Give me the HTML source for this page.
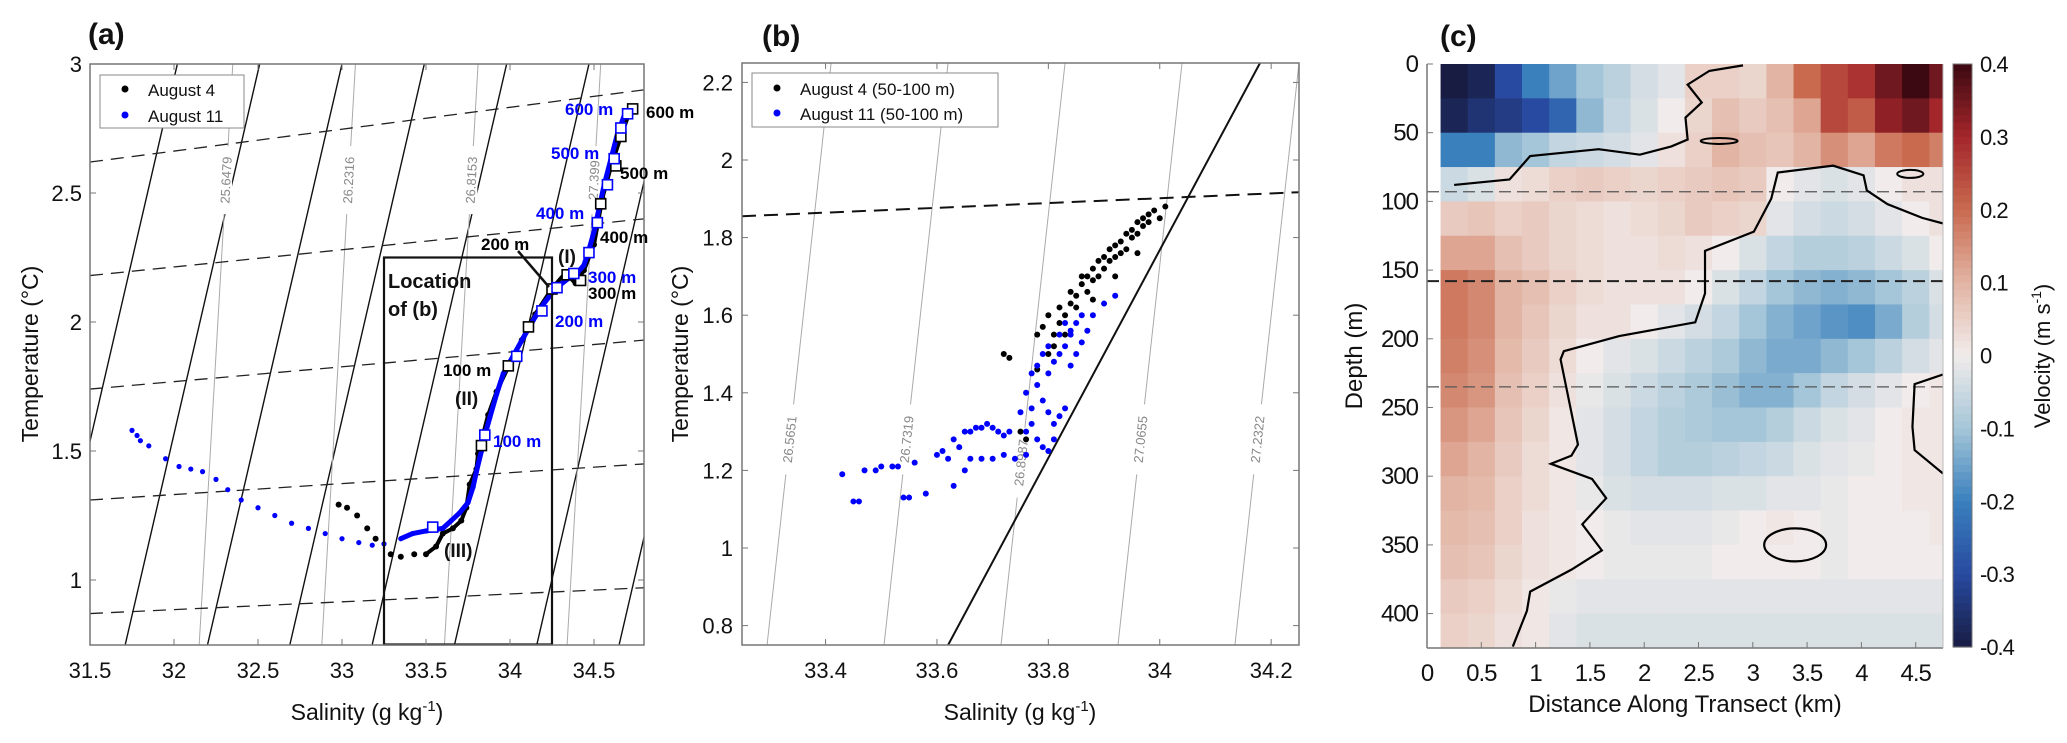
<!DOCTYPE html>
<html><head><meta charset="utf-8"><style>
body{margin:0;background:#fff}
svg{display:block;font-family:"Liberation Sans",sans-serif}
</style></head><body>
<svg id="fig" width="2067" height="743" viewBox="0 0 2067 743"></svg>
<script>
// ---------- DATA ----------
// Panel (a) profiles
const aug11Sal=[31.75,31.78,31.8,31.85,31.95,32.03,32.1,32.17,32.25,32.32,32.4,32.5,32.6,32.7,32.8,32.9,33,33.1,33.18,33.25,33.35,33.42,33.5,33.6,33.65,33.7,33.75,33.78,33.8,33.83,33.85,33.88,33.92,33.96,34.02,34.08,34.15,34.2,34.27,34.35,34.4,34.44,34.47,34.5,34.53,34.56,34.6,34.64,34.68,34.72];
const aug11Temp=[1.58,1.56,1.54,1.52,1.47,1.44,1.43,1.42,1.39,1.35,1.31,1.28,1.25,1.22,1.2,1.18,1.16,1.145,1.135,1.14,1.16,1.18,1.19,1.2,1.23,1.26,1.3,1.36,1.42,1.5,1.56,1.63,1.72,1.8,1.87,1.94,2.02,2.07,2.13,2.17,2.19,2.22,2.28,2.35,2.44,2.53,2.63,2.73,2.8,2.83];
const aug4Sal=[32.98,33.03,33.09,33.15,33.2,33.29,33.35,33.43,33.5,33.56,33.6,33.66,33.71,33.74,33.76,33.8,33.81,33.87,33.92,34.0,34.07,34.15,34.25,34.33,34.39,34.44,34.5,34.55,34.6,34.66,34.71];
const aug4Temp=[1.292,1.28,1.25,1.2,1.16,1.1,1.09,1.1,1.1,1.13,1.18,1.2,1.23,1.28,1.37,1.43,1.49,1.64,1.73,1.84,1.93,2.03,2.13,2.19,2.15,2.2,2.3,2.48,2.6,2.72,2.81];
const aug11SqSal=[33.54,33.85,34.04,34.19,34.28,34.38,34.47,34.52,34.58,34.62,34.66,34.70];
const aug11SqTemp=[1.205,1.562,1.867,2.043,2.133,2.188,2.269,2.385,2.532,2.633,2.752,2.807];
const aug4SqSal=[33.83,33.99,34.11,34.25,34.34,34.42,34.54,34.63,34.66,34.73];
const aug4SqTemp=[1.521,1.830,1.981,2.128,2.183,2.161,2.458,2.605,2.719,2.826];
const aSalTicks=[31.5,32,32.5,33,33.5,34,34.5];
const aTempTicks=[1,1.5,2,2.5,3];
const aSolidBottoms=[31.22,31.71,32.2,32.69,33.18,33.67,34.16,34.65];
const aGrayBottoms=[32.15,32.88,33.61,34.34];
const aGrayLabels=["25.6479","26.2316","26.8153","27.399"];
const aDashLeft=[2.62,2.18,1.74,1.31,0.87];
const aDashRight=[2.90,2.40,1.93,1.45,0.97];
// Panel (b)
const b4Sal=[33.72,33.73,33.75,33.76,33.78,33.79,33.8,33.8,33.81,33.82,33.82,33.83,33.84,33.84,33.85,33.85,33.86,33.86,33.87,33.87,33.88,33.88,33.89,33.89,33.9,33.9,33.91,33.91,33.92,33.92,33.93,33.93,33.94,33.94,33.95,33.95,33.96,33.96,33.97,33.97,33.98,33.98,33.99,34.0,34.01,33.96,33.92,33.88,33.83,33.81,33.78];
const b4Temp=[1.5,1.49,1.3,1.28,1.55,1.57,1.5,1.6,1.55,1.62,1.58,1.6,1.63,1.66,1.65,1.62,1.68,1.7,1.7,1.66,1.72,1.69,1.74,1.7,1.75,1.72,1.77,1.74,1.78,1.75,1.79,1.76,1.81,1.77,1.82,1.8,1.84,1.81,1.85,1.83,1.86,1.84,1.87,1.85,1.88,1.76,1.7,1.64,1.55,1.52,1.46];
const b11Sal=[33.43,33.45,33.46,33.47,33.49,33.5,33.52,33.53,33.54,33.55,33.56,33.58,33.6,33.61,33.62,33.63,33.64,33.65,33.66,33.67,33.68,33.69,33.7,33.71,33.72,33.73,33.66,33.68,33.7,33.72,33.74,33.76,33.65,33.63,33.75,33.76,33.77,33.78,33.79,33.8,33.81,33.82,33.83,33.78,33.79,33.8,33.81,33.77,33.76,33.77,33.8,33.81,33.82,33.83,33.84,33.85,33.86,33.87,33.88,33.9,33.92,33.84,33.85,33.86,33.79,33.8,33.82,33.83,33.84,33.78];
const b11Temp=[1.19,1.12,1.12,1.2,1.2,1.21,1.21,1.21,1.13,1.13,1.22,1.14,1.24,1.25,1.23,1.28,1.26,1.3,1.3,1.31,1.31,1.32,1.31,1.3,1.29,1.3,1.23,1.23,1.23,1.24,1.23,1.24,1.2,1.16,1.35,1.4,1.45,1.42,1.38,1.35,1.32,1.34,1.36,1.28,1.26,1.25,1.28,1.32,1.3,1.36,1.45,1.48,1.5,1.52,1.55,1.58,1.6,1.56,1.6,1.63,1.65,1.47,1.5,1.53,1.5,1.52,1.55,1.58,1.56,1.47];
const bSalTicks=[33.4,33.6,33.8,34,34.2];
const bTempTicks=[0.8,1,1.2,1.4,1.6,1.8,2,2.2];
const bGrayBottoms=[33.295,33.505,33.715,33.925,34.135];
const bGrayLabels=["26.5651","26.7319","26.8987","27.0655","27.2322"];
// Panel (c)
const cDistTicks=[0,0.5,1,1.5,2,2.5,3,3.5,4,4.5];
const cDepthTicks=[0,50,100,150,200,250,300,350,400];
const cbTicks=[0.4,0.3,0.2,0.1,0,-0.1,-0.2,-0.3,-0.4];
const cDashDepths=[93,158,235];
const velocity=[
[-0.4,-0.38,-0.3,-0.2,-0.15,-0.1,-0.07,-0.04,-0.02,0.05,0.05,0.04,0.1,0.2,0.25,0.28,0.35,0.4,0.35],
[-0.38,-0.35,-0.33,-0.3,-0.25,-0.12,-0.06,-0.03,0,0.04,0.08,0.06,0.08,0.12,0.25,0.22,0.32,0.35,0.3],
[-0.2,-0.2,-0.12,-0.1,-0.06,-0.05,-0.04,-0.02,0.02,0.05,0.1,0.08,0.07,0.1,0.15,0.12,0.18,0.2,0.17],
[-0.05,-0.03,0.02,0.03,0.05,0.06,0.05,0.04,0.05,0.06,0.07,0.06,0.0,-0.02,-0.03,-0.02,0.0,0.02,0.02],
[0.06,0.07,0.05,0.06,0.04,0.03,0.02,0.03,0.04,0.06,0.05,0.04,-0.02,-0.04,-0.05,-0.04,-0.02,0,0.02],
[0.12,0.12,0.08,0.06,0.04,0.03,0.02,0.02,0.03,0.02,0.0,-0.03,-0.06,-0.08,-0.08,-0.07,-0.05,-0.03,0],
[0.18,0.16,0.1,0.08,0.05,0.03,0.02,0.02,0.02,0.0,-0.03,-0.06,-0.1,-0.12,-0.13,-0.12,-0.1,-0.07,-0.03],
[0.18,0.16,0.1,0.07,0.04,0.02,0.02,0.0,-0.02,-0.04,-0.06,-0.1,-0.13,-0.15,-0.17,-0.18,-0.14,-0.08,-0.04],
[0.17,0.15,0.09,0.06,0.03,0.0,-0.02,-0.03,-0.05,-0.07,-0.09,-0.12,-0.14,-0.14,-0.12,-0.1,-0.07,-0.04,-0.02],
[0.16,0.14,0.08,0.05,0.02,-0.01,-0.03,-0.05,-0.07,-0.09,-0.11,-0.13,-0.13,-0.1,-0.06,-0.04,-0.02,0.0,0.01],
[0.14,0.12,0.07,0.04,0.01,-0.02,-0.04,-0.06,-0.08,-0.09,-0.1,-0.1,-0.08,-0.05,-0.03,-0.02,0,0.01,0.01],
[0.12,0.1,0.06,0.03,0.01,-0.02,-0.04,-0.06,-0.08,-0.08,-0.07,-0.06,-0.05,-0.03,-0.02,-0.01,0,0.01,0.01],
[0.1,0.09,0.05,0.03,0.01,-0.01,-0.03,-0.04,-0.04,-0.04,-0.03,-0.03,-0.02,-0.02,-0.01,0,0,0.01,0.01],
[0.09,0.08,0.05,0.02,0.01,0,-0.01,-0.02,-0.02,-0.02,-0.01,0,0.01,0,-0.01,0,0,0,0.01],
[0.08,0.07,0.04,0.02,0.01,0,-0.01,-0.01,-0.01,-0.01,0,0,0,0,-0.01,0,0,0,0],
[0.06,0.05,0.03,0.01,-0.01,-0.02,-0.02,-0.02,-0.02,-0.02,-0.02,-0.02,-0.02,-0.02,-0.02,-0.02,-0.02,-0.02,-0.02],
[0.05,0.04,0.02,0.01,-0.02,-0.03,-0.03,-0.03,-0.03,-0.03,-0.03,-0.03,-0.03,-0.03,-0.03,-0.03,-0.03,-0.03,-0.03]];
const colStarts=[0.125,0.375,0.625,0.875,1.125,1.375,1.625,1.875,2.125,2.375,2.625,2.875,3.125,3.375,3.625,3.875,4.125,4.375,4.625];
const rowStarts=[0,25,50,75,100,125,150,175,200,225,250,275,300,325,350,375,400];
const contourTopKm=[0.25,0.76,0.95,1.58,1.96,2.25,2.40,2.38,2.53,2.40,2.60,2.91];
const contourTopM=[88,84,67,62,66,60,55,39,28,15,5,1];
const contourMainKm=[0.79,0.92,0.95,1.33,1.61,1.43,1.65,1.52,1.14,1.33,1.39,1.23,1.26,1.77,2.47,2.56,2.56,3.01,3.17,3.23,3.74,4.02,4.05,4.24,4.56,4.75];
const contourMainM=[424,398,384,368,354,335,316,302,291,285,277,215,209,198,188,167,136,122,98,79,74,81,92,102,112,116];
const contourRightKm=[4.75,4.49,4.47,4.49,4.75];
const contourRightM=[226,233,264,281,298];

// ---------- HELPERS ----------
const NS='http://www.w3.org/2000/svg';
const svg=document.getElementById('fig');
function mk(tag,attrs,parent){const e=document.createElementNS(NS,tag);for(const k in attrs)e.setAttribute(k,attrs[k]);(parent||svg).appendChild(e);return e;}
function txt(s,attrs,parent){const e=mk('text',attrs,parent);e.textContent=s;return e;}
const defs=mk('defs',{});
function clip(id,x,y,w,h){const c=mk('clipPath',{id:id},defs);mk('rect',{x:x,y:y,width:w,height:h},c);}

// ---------- PANEL A ----------
const ax=s=>90+(s-31.5)*168, ay=t=>580-(t-1)*258;
clip('ca',90,64,554,581);
const gA=mk('g',{});


const gAc=mk('g',{'clip-path':'url(#ca)'},gA);
aSolidBottoms.forEach(b=>{const l=mk('line',{x1:ax(b),y1:ay(0.75),x2:ax(b+0.8*(3.2-0.75)/2.25),y2:ay(3.2),stroke:'#111','stroke-width':1.4},gAc);

});
aGrayBottoms.forEach((b,i)=>{const l=mk('line',{x1:ax(b),y1:ay(0.75),x2:ax(b+0.2),y2:ay(3),stroke:'#aaa','stroke-width':1},gAc);


const tx=ax(b+0.2*(2.55-0.75)/2.25),ty=ay(2.55);
mk('rect',{x:tx-8,y:ty-34,width:14,height:68,fill:'#fff'},gAc);
const t=txt(aGrayLabels[i],{x:tx,y:ty,'font-size':13,fill:'#888','text-anchor':'middle','dominant-baseline':'central',transform:`rotate(-87 ${tx} ${ty})`},gAc);

});
aDashLeft.forEach((t0,i)=>{const l=mk('line',{x1:ax(31.5),y1:ay(t0),x2:ax(34.8),y2:ay(aDashRight[i]),stroke:'#222','stroke-width':1.3,'stroke-dasharray':'13,8'},gAc);

});
// location box
const lb=mk('rect',{x:ax(33.25),y:ay(2.25),width:ax(34.25)-ax(33.25),height:ay(0.75)-ay(2.25),fill:'none',stroke:'#111','stroke-width':2.2},gA);


// profiles
function profile(S,T,col,w,minS,name,g,r){
 const pts=[];S.forEach((s,i)=>{if(s>=minS)pts.push(ax(s)+','+ay(T[i]));});
 const p=mk('polyline',{points:pts.join(' '),fill:'none',stroke:col,'stroke-width':w,'stroke-linejoin':'round'},g);
 
 
 S.forEach((s,i)=>{const c=mk('circle',{cx:ax(s),cy:ay(T[i]),r:r,fill:col},g);
 
 });
}
profile(aug4Sal,aug4Temp,'#000',4,33.5,'august-4-profile',gAc,3);
profile(aug11Sal,aug11Temp,'#0000ff',5,33.3,'august-11-profile',gAc,2.6);
aug4SqSal.forEach((s,i)=>{const r=mk('rect',{x:ax(s)-5,y:ay(aug4SqTemp[i])-5,width:10,height:10,fill:'#fff',stroke:'#000','stroke-width':1.6},gA);

});
aug11SqSal.forEach((s,i)=>{const r=mk('rect',{x:ax(s)-5,y:ay(aug11SqTemp[i])-5,width:10,height:10,fill:'#fff',stroke:'#0000ff','stroke-width':1.6},gA);

});
// frame & ticks
const fa=mk('rect',{x:90,y:64,width:554,height:581,fill:'none',stroke:'#777','stroke-width':1.5},gA);


aSalTicks.forEach(s=>{mk('line',{x1:ax(s),y1:645,x2:ax(s),y2:639,stroke:'#777'},gA);mk('line',{x1:ax(s),y1:64,x2:ax(s),y2:70,stroke:'#777'},gA);
const t=txt(String(s),{x:ax(s),y:678,'font-size':22,'text-anchor':'middle',fill:'#111'},gA);

});
aTempTicks.forEach(v=>{mk('line',{x1:90,y1:ay(v),x2:96,y2:ay(v),stroke:'#777'},gA);mk('line',{x1:644,y1:ay(v),x2:638,y2:ay(v),stroke:'#777'},gA);
const t=txt(String(v),{x:82,y:ay(v)+8,'font-size':22,'text-anchor':'end',fill:'#111'},gA);

});
// depth labels
const depthLabels=[["600 m",565,115,'#0000ff'],["600 m",646,118,'#000'],["500 m",551,159,'#0000ff'],["500 m",620,179,'#000'],["400 m",536,219,'#0000ff'],["400 m",600,243,'#000'],["300 m",588,283,'#0000ff'],["300 m",588,299,'#000'],["200 m",555,327,'#0000ff'],["200 m",481,250,'#000'],["100 m",443,376,'#000'],["100 m",493,447,'#0000ff']];
depthLabels.forEach(d=>{const t=txt(d[0],{x:d[1],y:d[2],'font-size':17,'font-weight':'bold',fill:d[3]},gA);

});
[["(I)",558,263],["(II)",455,405],["(III)",444,557]].forEach(d=>{const t=txt(d[0],{x:d[1],y:d[2],'font-size':19,'font-weight':'bold',fill:'#111'},gA);

});
const loc1=txt('Location',{x:388,y:288,'font-size':20,'font-weight':'bold',fill:'#111'},gA);


const loc2=txt('of (b)',{x:388,y:316,'font-size':20,'font-weight':'bold',fill:'#111'},gA);


const arr=mk('line',{x1:518,y1:251,x2:549,y2:287,stroke:'#111','stroke-width':2.5},gA);


// legend a
const lga=mk('g',{},gA);


mk('rect',{x:100,y:75,width:144,height:53,fill:'#fff',stroke:'#888','stroke-width':1},lga);
mk('circle',{cx:125,cy:89,r:3.5,fill:'#000'},lga);
mk('circle',{cx:125,cy:115,r:3.5,fill:'#0000ff'},lga);
const la1=txt('August 4',{x:148,y:96,'font-size':17,fill:'#111'},lga);


const la2=txt('August 11',{x:148,y:122,'font-size':17,fill:'#111'},lga);


const ta=txt('(a)',{x:88,y:44,'font-size':30,'font-weight':'bold',fill:'#111'},gA);


const xla=txt('',{x:367,y:720,'font-size':23,'text-anchor':'middle',fill:'#111'},gA);
xla.innerHTML='Salinity (g kg<tspan dy="-9" font-size="15">-1</tspan><tspan dy="9">)</tspan>';


const yla=txt('Temperature (°C)',{x:38,y:354,'font-size':23,'text-anchor':'middle',fill:'#111',transform:'rotate(-90 38 354)'},gA);



// ---------- PANEL B ----------
const bx=s=>742+(s-33.25)*557, by=t=>63+(2.25-t)*388;
clip('cb',742,63,557,582);
const gB=mk('g',{});


const gBc=mk('g',{'clip-path':'url(#cb)'},gB);
bGrayBottoms.forEach((b,i)=>{const l=mk('line',{x1:bx(b),y1:by(0.75),x2:bx(b+0.115*1.6/1.5),y2:by(2.35),stroke:'#aaa','stroke-width':1},gBc);


const tv=i==2?1.22:1.28;const tx=bx(b+0.115*(tv-0.75)/1.5),ty=by(tv);
mk('rect',{x:tx-8,y:ty-35,width:15,height:70,fill:'#fff'},gBc);
const t=txt(bGrayLabels[i],{x:tx,y:ty,'font-size':13,fill:'#888','text-anchor':'middle','dominant-baseline':'central',transform:`rotate(-84 ${tx} ${ty})`},gBc);

});
const bsl=mk('line',{x1:bx(33.62),y1:by(0.75),x2:bx(34.18),y2:by(2.25),stroke:'#111','stroke-width':2},gBc);


const bdl=mk('line',{x1:bx(33.25),y1:by(1.855),x2:bx(34.25),y2:by(1.917),stroke:'#111','stroke-width':2,'stroke-dasharray':'14,8'},gBc);


b4Sal.forEach((s,i)=>{const c=mk('circle',{cx:bx(s),cy:by(b4Temp[i]),r:3,fill:'#000'},gBc);

});
b11Sal.forEach((s,i)=>{const c=mk('circle',{cx:bx(s),cy:by(b11Temp[i]),r:3,fill:'#0000ff'},gBc);

});
const fb=mk('rect',{x:742,y:63,width:557,height:582,fill:'none',stroke:'#777','stroke-width':1.5},gB);


bSalTicks.forEach(s=>{mk('line',{x1:bx(s),y1:645,x2:bx(s),y2:639,stroke:'#777'},gB);mk('line',{x1:bx(s),y1:63,x2:bx(s),y2:69,stroke:'#777'},gB);
const t=txt(String(s),{x:bx(s),y:678,'font-size':22,'text-anchor':'middle',fill:'#111'},gB);

});
bTempTicks.forEach(v=>{mk('line',{x1:742,y1:by(v),x2:748,y2:by(v),stroke:'#777'},gB);mk('line',{x1:1299,y1:by(v),x2:1293,y2:by(v),stroke:'#777'},gB);
const t=txt(String(v),{x:733,y:by(v)+8,'font-size':22,'text-anchor':'end',fill:'#111'},gB);

});
const lgb=mk('g',{},gB);


mk('rect',{x:752,y:73,width:246,height:54,fill:'#fff',stroke:'#888','stroke-width':1},lgb);
mk('circle',{cx:777,cy:88,r:3.5,fill:'#000'},lgb);
mk('circle',{cx:777,cy:113,r:3.5,fill:'#0000ff'},lgb);
const lb1=txt('August 4 (50-100 m)',{x:800,y:95,'font-size':17,fill:'#111'},lgb);


const lb2=txt('August 11 (50-100 m)',{x:800,y:120,'font-size':17,fill:'#111'},lgb);


const tb=txt('(b)',{x:762,y:46,'font-size':30,'font-weight':'bold',fill:'#111'},gB);


const xlb=txt('',{x:1020,y:720,'font-size':23,'text-anchor':'middle',fill:'#111'},gB);
xlb.innerHTML='Salinity (g kg<tspan dy="-9" font-size="15">-1</tspan><tspan dy="9">)</tspan>';


const ylb=txt('Temperature (°C)',{x:688,y:354,'font-size':23,'text-anchor':'middle',fill:'#111',transform:'rotate(-90 688 354)'},gB);



// ---------- PANEL C ----------
const cx=d=>1427+d*108.6, cy=z=>64+z*1.374;
const stops=[[-0.4,[24,28,67]],[-0.3,[40,74,160]],[-0.2,[58,128,189]],[-0.1,[165,198,216]],[0,[241,236,235]],[0.1,[226,180,163]],[0.2,[201,106,79]],[0.3,[163,38,43]],[0.4,[60,9,18]]];
function cmap(v){v=Math.max(-0.4,Math.min(0.4,v));for(let i=0;i<stops.length-1;i++){const a=stops[i],b=stops[i+1];if(v<=b[0]){const f=(v-a[0])/(b[0]-a[0]);const c=a[1].map((x,k)=>Math.round(x+(b[1][k]-x)*f));return `rgb(${c})`;}}return 'rgb(60,9,18)';}
clip('cc',1427,64,516,584);
const gC=mk('g',{});


const gCc=mk('g',{'clip-path':'url(#cc)'},gC);
velocity.forEach((row,ri)=>row.forEach((v,ci)=>{const x0=cx(colStarts[ci]),x1=cx(colStarts[ci]+0.25),y0=cy(rowStarts[ri]),y1=cy(rowStarts[ri]+25);
const r=mk('rect',{x:x0,y:y0,width:x1-x0+0.6,height:y1-y0+0.6,fill:cmap(v)},gCc);

}));
cDashDepths.forEach((d,i)=>{const l=mk('line',{x1:1427,y1:cy(d),x2:1943,y2:cy(d),stroke:i==1?'#222':'#555','stroke-width':i==1?2:1.3,'stroke-dasharray':'12,6'},gCc);

});
function cpath(K,M,name,closed){const p=mk('path',{d:K.map((k,i)=>(i?'L':'M')+cx(k)+','+cy(M[i])).join(' ')+(closed?'Z':''),fill:'none',stroke:'#000','stroke-width':2.2},gCc);

}
cpath(contourTopKm,contourTopM,'zero-contour-top');
cpath(contourMainKm,contourMainM,'zero-contour-main');
cpath(contourRightKm,contourRightM,'zero-contour-right');
const el1=mk('ellipse',{cx:cx(3.39),cy:cy(350),rx:cx(0.285)-cx(0),ry:cy(12)-cy(0),fill:'none',stroke:'#000','stroke-width':2.2},gCc);


const el2=mk('ellipse',{cx:cx(2.69),cy:cy(56),rx:cx(0.17)-cx(0),ry:3,fill:'none',stroke:'#000','stroke-width':2},gCc);


const el3=mk('ellipse',{cx:cx(4.45),cy:cy(80),rx:cx(0.12)-cx(0),ry:4,fill:'none',stroke:'#000','stroke-width':2},gCc);


mk('line',{x1:1427,y1:64,x2:1427,y2:648,stroke:'#777','stroke-width':1.5},gC);
mk('line',{x1:1427,y1:648,x2:1943,y2:648,stroke:'#777','stroke-width':1.5},gC);
mk('line',{x1:1943,y1:64,x2:1943,y2:648,stroke:'#bbb','stroke-width':1},gC);
cDistTicks.forEach(d=>{mk('line',{x1:cx(d),y1:648,x2:cx(d),y2:642,stroke:'#777'},gC);
const t=txt(String(d),{x:cx(d),y:681,'font-size':24,'text-anchor':'middle',fill:'#111','letter-spacing':'-1'},gC);

});
cDepthTicks.forEach(z=>{mk('line',{x1:1427,y1:cy(z),x2:1433,y2:cy(z),stroke:'#777'},gC);
const t=txt(String(z),{x:1418,y:cy(z)+8,'font-size':24,'text-anchor':'end',fill:'#111','letter-spacing':'-1'},gC);

});
// colorbar
const gCB=mk('g',{});


for(let i=0;i<80;i++){const v=0.4-(i+0.5)*0.01;mk('rect',{x:1953,y:64+i*583/80,width:19,height:583/80+0.6,fill:cmap(v)},gCB);}
mk('rect',{x:1953,y:64,width:19,height:583,fill:'none',stroke:'#777'},gCB);
cbTicks.forEach((v,i)=>{const y=64+i*583/8;
const t=txt(String(v),{x:1980,y:y+8,'font-size':22,fill:'#111','letter-spacing':'-1'},gCB);

});
const cbl=txt('',{x:2050,y:356,'font-size':22,'text-anchor':'middle',fill:'#111',transform:'rotate(-90 2050 356)'},gCB);
cbl.innerHTML='Velocity (m s<tspan dy="-9" font-size="14">-1</tspan><tspan dy="9">)</tspan>';


const tc=txt('(c)',{x:1440,y:46,'font-size':30,'font-weight':'bold',fill:'#111'},gC);


const xlc=txt('Distance Along Transect (km)',{x:1685,y:712,'font-size':24,'text-anchor':'middle',fill:'#111'},gC);


const ylc=txt('Depth (m)',{x:1362,y:356,'font-size':24,'text-anchor':'middle',fill:'#111',transform:'rotate(-90 1362 356)'},gC);


</script>
</body></html>
